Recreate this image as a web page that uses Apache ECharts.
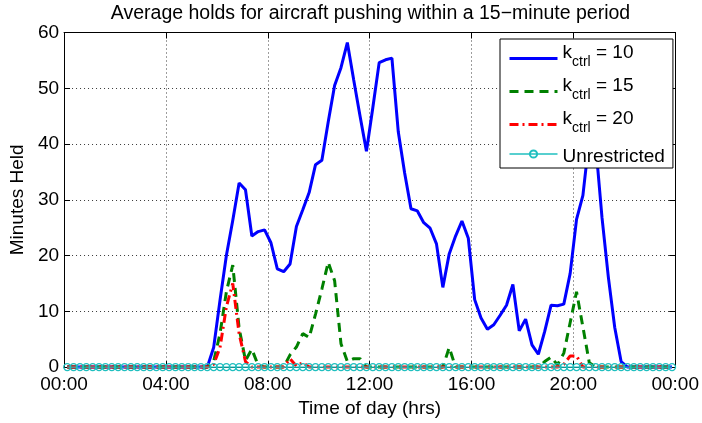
<!DOCTYPE html>
<html>
<head>
<meta charset="utf-8">
<script src="https://cdn.jsdelivr.net/npm/echarts@6/dist/echarts.min.js"></script>
<style>
html,body{margin:0;padding:0;background:#fff;}
#chart{width:702px;height:423px;}
</style>
</head>
<body>
<div id="chart"></div>
<script>
// 96 fifteen-minute periods, plotted at the middle of each period (hours)
var periodCount = 96;
var periodHours = [];
for (var i = 0; i < periodCount; i++) { periodHours.push(0.125 + 0.25 * i); }

var xTickHours = [0, 4, 8, 12, 16, 20, 24];
var xTickLabels = ['00:00', '04:00', '08:00', '12:00', '16:00', '20:00', '00:00'];

var kctrl10 = [
  0,0,0,0,0,0,0,0,0,0, 0,0,0,0,0,0,0,0,0,0,
  0,0,0,3.5,12,20,26.3,33,31.8,23.5,
  24.3,24.6,22.3,17.6,17.1,18.5,25.2,28.2,31.3,36.3,
  37.1,44,50.5,53.7,58.2,51.5,45,38.7,46.5,54.6,
  55.1,55.4,42.2,34.8,28.4,28.0,25.9,24.9,22.1,14.3,
  20.3,23.5,26.2,23.1,12.1,8.8,6.8,7.6,9.3,11.1,
  14.8,6.5,8.6,4.0,2.3,6.4,11.1,11.0,11.3,16.8,
  26.5,30.8,41,40,26.8,16.1,7.1,1.0,0,0,
  0,0,0,0,0,0
];
var kctrl15 = [
  0,0,0,0,0,0,0,0,0,0, 0,0,0,0,0,0,0,0,0,0,
  0,0,0,1,6,13.5,18.3,7,1.2,3.2,
  0.3,0,0,0,0,2.2,3.6,6,5.3,9.5,
  14,18.8,15.5,4.2,1,1.5,1.5,0,0,0,
  0,0,0,0,0,0,0,0,0,0,
  3.5,0,0,0,0,0,0,0,0,0,
  0,0,0,0,0,1,1.8,0.4,2.5,8,
  13.5,7.2,0.8,0,0,0,0,0,0,0,
  0,0,0,0,0,0
];
var kctrl20 = [
  0,0,0,0,0,0,0,0,0,0, 0,0,0,0,0,0,0,0,0,0,
  0,0,0,0.5,3.5,10.8,15,6,1,0,
  0,0,0,0,0,1.5,0.2,0.8,0,0,
  0,0,0,0,0,0,0,0,0,0,
  0,0,0,0,0,0,0,0,0,0,
  0,0,0,0,0,0,0,0,0,0,
  0,0,0,0,0,0,0,0,0.5,2,
  2,0,0,0,0,0,0,0,0,0,
  0,0,0,0,0,0
];
var unrestricted = [
  0,0,0,0,0,0,0,0,0,0, 0,0,0,0,0,0,0,0,0,0,
  0,0,0,0,0,0,0,0,0,0, 0,0,0,0,0,0,0,0,0,0,
  0,0,0,0,0,0,0,0,0,0, 0,0,0,0,0,0,0,0,0,0,
  0,0,0,0,0,0,0,0,0,0, 0,0,0,0,0,0,0,0,0,0,
  0,0,0,0,0,0,0,0,0,0, 0,0,0,0,0,0
];

function pairs(vals) {
  return vals.map(function (v, i) { return [periodHours[i], v]; });
}

var FONT = '"Liberation Sans", Arial, Helvetica, sans-serif';
var FS = 19;

var chart = echarts.init(document.getElementById('chart'), null, {renderer: 'canvas'});

var gridLine = {show: true, lineStyle: {color: '#3a3a3a', width: 1, type: [1, 3]}};
var hideSymbol = {opacity: 0};

var option = {
  animation: false,
  backgroundColor: '#fff',
  title: {
    text: 'Average holds for aircraft pushing within a 15\u2212minute period',
    left: 370.5,
    textAlign: 'center',
    top: 4,
    padding: 0,
    textStyle: {fontFamily: FONT, fontSize: 19.5, fontWeight: 'normal', color: '#000'}
  },
  grid: {left: 64, right: 25, top: 32.5, bottom: 54, containLabel: false},
  legend: {
    orient: 'vertical',
    left: 500,
    top: 39,
    padding: [4, 8, 2, 8],
    itemGap: 2,
    itemWidth: 48,
    itemHeight: 9,
    backgroundColor: '#fff',
    borderColor: '#000',
    borderWidth: 1,
    borderRadius: 0,
    lineStyle: {width: 'inherit'},
    selectedMode: false,
    data: [
      {name: 'kctrl10', itemStyle: hideSymbol},
      {name: 'kctrl15', itemStyle: hideSymbol},
      {name: 'kctrl20', itemStyle: hideSymbol},
      {name: 'Unrestricted'}
    ],
    formatter: function (name) {
      if (name === 'kctrl10') return '{m|k}{s|ctrl}{m| = 10}';
      if (name === 'kctrl15') return '{m|k}{s|ctrl}{m| = 15}';
      if (name === 'kctrl20') return '{m|k}{s|ctrl}{m| = 20}';
      return '{u|' + name + '}';
    },
    textStyle: {
      fontFamily: FONT, fontSize: FS, color: '#000',
      rich: {
        m: {fontFamily: FONT, fontSize: FS, color: '#000', lineHeight: 22, padding: [0, 0, 12, 0]},
        s: {fontFamily: FONT, fontSize: 14, color: '#000', lineHeight: 16, padding: [7, 0, 0, 0]},
        u: {fontFamily: FONT, fontSize: FS, color: '#000', lineHeight: 22, padding: [5, 0, 0, 0]}
      }
    }
  },
  xAxis: [{
    type: 'value', position: 'bottom', min: 0, max: 24, interval: 4,
    name: 'Time of day (hrs)', nameLocation: 'middle', nameGap: 25,
    nameTextStyle: {fontFamily: FONT, fontSize: FS, color: '#000'},
    axisLine: {show: true, onZero: false, lineStyle: {color: '#000', width: 1}},
    axisTick: {show: true, inside: true, length: 6, lineStyle: {color: '#000'}},
    axisLabel: {
      fontFamily: FONT, fontSize: FS, color: '#000', margin: 8,
      showMinLabel: true, showMaxLabel: true,
      formatter: function (v) { var k = xTickHours.indexOf(v); return k >= 0 ? xTickLabels[k] : ''; }
    },
    splitLine: gridLine
  }, {
    type: 'value', position: 'top', min: 0, max: 24, interval: 4,
    axisLine: {show: true, onZero: false, lineStyle: {color: '#000', width: 1}},
    axisTick: {show: true, inside: true, length: 6, lineStyle: {color: '#000'}},
    axisLabel: {show: false},
    splitLine: {show: false}
  }],
  yAxis: [{
    type: 'value', position: 'left', min: 0, max: 60, interval: 10,
    name: 'Minutes Held', nameLocation: 'middle', nameGap: 31,
    nameTextStyle: {fontFamily: FONT, fontSize: FS, color: '#000'},
    axisLine: {show: true, onZero: false, lineStyle: {color: '#000', width: 1}},
    axisTick: {show: true, inside: true, length: 6, lineStyle: {color: '#000'}},
    axisLabel: {fontFamily: FONT, fontSize: FS, color: '#000', margin: 5},
    splitLine: gridLine
  }, {
    type: 'value', position: 'right', min: 0, max: 60, interval: 10,
    axisLine: {show: true, onZero: false, lineStyle: {color: '#000', width: 1}},
    axisTick: {show: true, inside: true, length: 6, lineStyle: {color: '#000'}},
    axisLabel: {show: false},
    splitLine: {show: false}
  }],
  series: [{
    name: 'kctrl10', type: 'line', data: pairs(kctrl10),
    symbol: 'none', showSymbol: false, clip: false,
    itemStyle: {color: '#0000ff'},
    lineStyle: {color: '#0000ff', width: 3, type: 'solid'}
  }, {
    name: 'kctrl15', type: 'line', data: pairs(kctrl15),
    symbol: 'none', showSymbol: false, clip: false,
    itemStyle: {color: '#008000'},
    lineStyle: {color: '#008000', width: 3, type: [9, 6]}
  }, {
    name: 'kctrl20', type: 'line', data: pairs(kctrl20),
    symbol: 'none', showSymbol: false, clip: false,
    itemStyle: {color: '#ff0000'},
    lineStyle: {color: '#ff0000', width: 3, type: [9, 4, 2, 4]}
  }, {
    name: 'Unrestricted', type: 'line', data: pairs(unrestricted),
    symbol: 'circle', symbolSize: 7, showSymbol: true, clip: false,
    itemStyle: {color: 'transparent', borderColor: '#1fbfbf', borderWidth: 1.3},
    lineStyle: {color: '#1fbfbf', width: 1.3}
  }]
};

chart.setOption(option);
</script>
</body>
</html>
